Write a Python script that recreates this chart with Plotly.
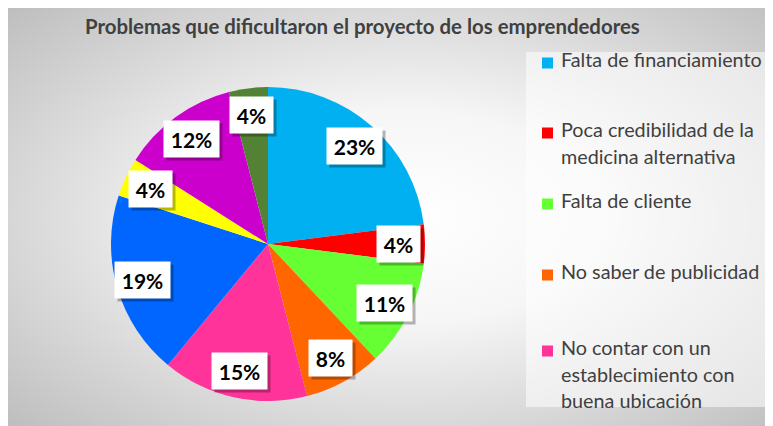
import base64
import math
import plotly.graph_objects as go

# datos (porcentajes, sentido horario desde arriba)
categorias = [
    "Falta de financiamiento",
    "Poca credibilidad de la medicina alternativa",
    "Falta de cliente",
    "No saber de publicidad",
    "No contar con un establecimiento con buena ubicación",
    "Categoría 6",
    "Categoría 7",
    "Categoría 8",
    "Categoría 9",
]
valores = [23, 4, 11, 8, 15, 19, 4, 12, 4]
colores = ["#00B0F0", "#FF0000", "#66FF33", "#FF6600", "#FF3399",
           "#0066FF", "#FFFF00", "#CC00CC", "#548235"]

# solo las 5 primeras aparecen en la leyenda (recortada en el original)
leyenda_lineas = [
    ["Falta de financiamiento"],
    ["Poca credibilidad de la", "medicina alternativa"],
    ["Falta de cliente"],
    ["No saber de publicidad"],
    ["No contar con un", "establecimiento con", "buena ubicación"],
]
leyenda_y = [63, 133, 204, 275, 351]

titulo = "Problemas que dificultaron el proyecto de los emprendedores"

# la pagina añade 8px de margen: la figura ocupa el resto de la ventana
OFF = 8
W, H = 773 - OFF, 426 - OFF
FONT = "Lato"
GRIS = "#404040"


def px(x):
    return (x - OFF) / W


def py(y):
    return 1 - (y - OFF) / H


# fondo con degradado radial
svg = (
    "<svg xmlns='http://www.w3.org/2000/svg' width='765' height='418' preserveAspectRatio='none'>"
    "<defs><radialGradient id='g' cx='0.52' cy='0.5' r='0.72'>"
    "<stop offset='0' stop-color='#ffffff'/>"
    "<stop offset='0.35' stop-color='#f6f6f6'/>"
    "<stop offset='1' stop-color='#bebebe'/>"
    "</radialGradient></defs>"
    "<rect width='100%' height='100%' fill='url(#g)'/></svg>"
)
fondo = "data:image/svg+xml;base64," + base64.b64encode(svg.encode()).decode()

# geometria del pastel (pixeles de la referencia)
x0, x1, y0, y1 = 111, 425, 87, 401
cx, cy = (x0 + x1) / 2, (y0 + y1) / 2
R = (x1 - x0) / 2

fig = go.Figure()
fig.add_trace(go.Pie(
    labels=categorias, values=valores,
    marker=dict(colors=colores, line=dict(width=0)),
    sort=False, direction="clockwise", rotation=0,
    textinfo="none", hoverinfo="label+percent",
    domain=dict(x=[px(x0), px(x1)], y=[py(y1), py(y0)]),
    showlegend=False,
))

anots = []
# etiquetas de datos en cajas blancas con sombra
total = sum(valores)
acum = 0
for v in valores:
    ang = 2 * math.pi * (acum + v / 2) / total
    acum += v
    lx = cx + 0.83 * R * math.sin(ang)
    ly = cy - 0.83 * R * math.cos(ang)
    txt = f"{round(100 * v / total)}%"
    w = 17 + 12 * len(txt)
    for sombra in (True, False):
        anots.append(dict(
            x=px(lx), y=py(ly), xref="paper", yref="paper",
            xanchor="center", yanchor="middle",
            text="" if sombra else f"<b>{txt}</b>",
            showarrow=False, width=w, height=34,
            bgcolor="rgba(0,0,0,0.28)" if sombra else "white",
            xshift=3 if sombra else 0, yshift=-3 if sombra else 0,
            font=dict(family=FONT, size=21, color="black"),
        ))

# titulo
anots.append(dict(
    x=px(362), y=py(26), xref="paper", yref="paper",
    xanchor="center", yanchor="middle",
    text=f"<b>{titulo}</b>", showarrow=False,
    font=dict(family=FONT, size=20.4, color=GRIS),
))

# leyenda manual
shapes = [dict(
    type="rect", xref="paper", yref="paper", layer="below",
    x0=px(526), x1=1, y0=py(407), y1=py(52),
    fillcolor="rgba(255,255,255,0.55)", line=dict(width=0),
)]
for lineas, yc, col in zip(leyenda_lineas, leyenda_y, colores):
    shapes.append(dict(
        type="rect", xref="paper", yref="paper",
        x0=px(542), x1=px(553), y0=py(yc + 5.5), y1=py(yc - 5.5),
        fillcolor=col, line=dict(width=0),
    ))
    for i, ln in enumerate(lineas):
        anots.append(dict(
            x=px(559), y=py(yc - 4 + 26.5 * i), xref="paper", yref="paper",
            xanchor="left", yanchor="middle", text=ln, showarrow=False,
            font=dict(family=FONT, size=19.8, color=GRIS),
        ))

fig.update_layout(
    width=W, height=H,
    margin=dict(l=0, r=0, t=0, b=0),
    paper_bgcolor="white", plot_bgcolor="white",
    images=[dict(
        source=fondo, xref="paper", yref="paper",
        x=0, y=1, sizex=1, sizey=1,
        xanchor="left", yanchor="top", sizing="stretch", layer="below",
    )],
    shapes=shapes,
    annotations=anots,
)

fig.write_html("out.html")
